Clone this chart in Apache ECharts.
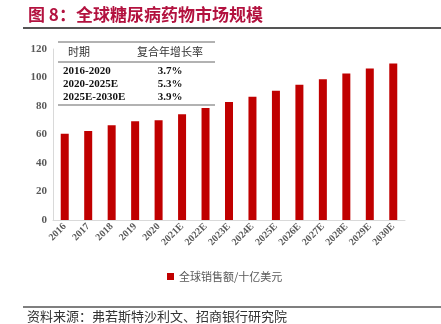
<!DOCTYPE html>
<html><head><meta charset="utf-8">
<script src="https://cdn.jsdelivr.net/npm/echarts@6/dist/echarts.min.js"></script>
<style>html,body{margin:0;padding:0;background:#fff;}#c{width:441px;height:324px;}</style>
</head><body><div id="c"></div>
<script>
var categories = ['2016','2017','2018','2019','2020','2021E','2022E','2023E','2024E','2025E','2026E','2027E','2028E','2029E','2030E'];
var sales = [60.5, 62.4, 66.5, 69.3, 70.0, 74.2, 78.6, 82.8, 86.5, 90.7, 95.0, 98.7, 102.8, 106.4, 109.9];
var seriesName = '全球销售额/十亿美元';
var yTicks = [0, 20, 40, 60, 80, 100, 120];
var tableHeader = ['时期', '复合年增长率'];
var tablePeriods = ['2016-2020', '2020-2025E', '2025E-2030E'];
var tableRates = ['3.7%', '5.3%', '3.9%'];
var titleText = '图 8：全球糖尿病药物市场规模';
var sourceText = '资料来源：弗若斯特沙利文、招商银行研究院';

var chart = echarts.init(document.getElementById('c'));
var serif = '"Liberation Serif","DejaVu Serif",serif';
var cjk = '"Noto Sans CJK SC",sans-serif';

var graphics = [
  {type:'text', left:28, top:6, style:{text:titleText, font:'bold 17px ' + cjk, fill:'#b3123f'}},
  {type:'line', shape:{x1:23,y1:28,x2:441,y2:28}, style:{stroke:'#555',lineWidth:2}},
  {type:'line', shape:{x1:58,y1:42,x2:215,y2:42}, style:{stroke:'#666',lineWidth:1.2}},
  {type:'line', shape:{x1:58,y1:62,x2:215,y2:62}, style:{stroke:'#666',lineWidth:1.2}},
  {type:'line', shape:{x1:58,y1:105,x2:215,y2:105}, style:{stroke:'#666',lineWidth:1.2}},
  {type:'text', x:68, y:52, style:{text:tableHeader[0], font:'11px ' + cjk, fill:'#333', verticalAlign:'middle'}},
  {type:'text', x:170, y:52, style:{text:tableHeader[1], font:'11px ' + cjk, fill:'#333', align:'center', verticalAlign:'middle'}},
  {type:'line', shape:{x1:23,y1:307,x2:441,y2:307}, style:{stroke:'#555',lineWidth:1.5}},
  {type:'text', x:27, y:316, style:{text:sourceText, font:'13px ' + cjk, fill:'#333', verticalAlign:'middle'}}
];
for (var i = 0; i < tablePeriods.length; i++) {
  graphics.push({type:'text', x:63, y:71 + i*13, style:{text:tablePeriods[i], font:'bold 11px ' + serif, fill:'#111', verticalAlign:'middle'}});
  graphics.push({type:'text', x:170, y:71 + i*13, style:{text:tableRates[i], font:'bold 11px ' + serif, fill:'#111', align:'center', verticalAlign:'middle'}});
}

chart.setOption({
  animation: false,
  grid: {left:53, right:36, top:49, bottom:104, containLabel:false},
  legend: {
    data:[seriesName], left:162, top:266, itemWidth:7, itemHeight:7, icon:'rect', itemGap:4,
    textStyle:{fontSize:11, color:'#595959', fontFamily:cjk}
  },
  xAxis: {
    type:'category', data:categories,
    axisLine:{show:true, lineStyle:{color:'#d9d9d9'}},
    axisTick:{show:false},
    axisLabel:{rotate:45, fontSize:10, fontWeight:'bold', fontFamily:serif, color:'#595959', margin:5, interval:0}
  },
  yAxis: {
    type:'value', min:yTicks[0], max:yTicks[yTicks.length-1], interval:20,
    axisLine:{show:true, lineStyle:{color:'#d9d9d9'}},
    axisTick:{show:false},
    splitLine:{show:false},
    axisLabel:{fontSize:11, fontWeight:'bold', fontFamily:serif, color:'#595959', margin:6}
  },
  series: [{
    name:seriesName, type:'bar', data:sales, barWidth:8,
    itemStyle:{color:'#c00000'}
  }],
  graphic: graphics
});
</script></body></html>
